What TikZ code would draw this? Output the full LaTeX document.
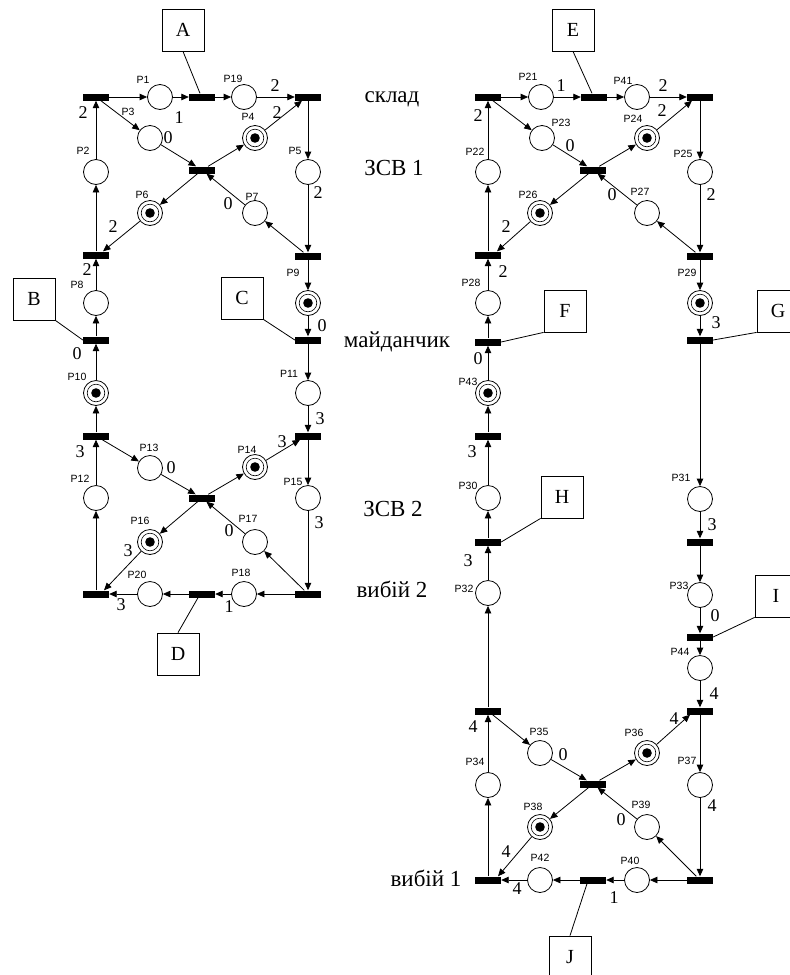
\documentclass[tikz,border=0pt]{standalone}
\usepackage{fontspec}
\setmainfont{Liberation Serif}
\newfontfamily\plfont{Liberation Sans}
\usetikzlibrary{arrows.meta}

\begin{document}
\begin{tikzpicture}[x=1pt,y=-1pt,
  place/.style={circle,draw,line width=0.8pt,minimum size=25pt,inner sep=0pt},
  token/.style={place,path picture={
      \fill (path picture bounding box.center) circle (4.8pt);
      \draw[line width=0.6pt] (path picture bounding box.center) circle (8.8pt);}},
  trans/.style={rectangle,fill=black,minimum width=26pt,minimum height=7pt,inner sep=0pt},
  arc/.style={-{Triangle[length=7.5pt,width=6.5pt]},line width=0.8pt},
  plab/.style={font=\plfont\fontsize{10.5}{10.5}\selectfont,inner sep=0pt},
  wt/.style={font=\fontsize{18}{18}\selectfont,inner sep=0pt},
  tag/.style={draw,line width=0.8pt,minimum width=42pt,minimum height=42pt,inner sep=0pt,font=\fontsize{20}{20}\selectfont},
  zone/.style={font=\fontsize{23}{23}\selectfont,inner sep=0pt,anchor=base},
  link/.style={line width=0.8pt}
]
\useasboundingbox (0,0) rectangle (790,975);
\fill[white] (0,0) rectangle (790,975);
\clip (0,0) rectangle (790,975);

% ---------------- left net ----------------
\node[trans] (tTL) at (96,97) {};
\node[place] (P1) at (160,97) {};
\node[trans] (tA) at (202,97) {};
\node[place] (P19) at (244,97) {};
\node[trans] (tTR) at (308,97) {};
\node[place] (P3) at (150,138) {};
\node[token] (P4) at (255,138) {};
\node[trans] (tC1) at (202,170) {};
\node[place] (P2) at (96,172) {};
\node[place] (P5) at (308,172) {};
\node[token] (P6) at (150,213) {};
\node[place] (P7) at (255,213) {};
\node[trans] (tL2) at (96,255) {};
\node[trans] (tR2) at (308,256) {};
\node[place] (P8) at (96,303) {};
\node[token] (P9) at (308,303) {};
\node[trans] (tB) at (96,340) {};
\node[trans] (tC) at (308,340) {};
\node[token] (P10) at (96,393) {};
\node[place] (P11) at (308,393) {};
\node[trans] (tL3) at (96,436) {};
\node[trans] (tR3) at (308,436) {};
\node[place] (P13) at (150,468) {};
\node[token] (P14) at (255,467) {};
\node[trans] (tC2) at (202,498) {};
\node[place] (P12) at (96,498) {};
\node[place] (P15) at (308,498) {};
\node[token] (P16) at (150,542) {};
\node[place] (P17) at (255,542) {};
\node[trans] (tBL) at (96,594) {};
\node[place] (P20) at (150,594) {};
\node[trans] (tD) at (202,594) {};
\node[place] (P18) at (244,594) {};
\node[trans] (tBR) at (308,594) {};

\draw[arc] (tTL) -- (P1);
\draw[arc] (P1) -- (tA);
\draw[arc] (tA) -- (P19);
\draw[arc] (P19) -- (tTR);
\draw[arc] (tTL) -- (P3);
\draw[arc] (P3) -- (tC1);
\draw[arc] (tC1) -- (P4);
\draw[arc] (P4) -- ([xshift=-6pt]tTR.south);
\draw[arc] (tTR) -- (P5);
\draw[arc] (P5) -- (tR2);
\draw[arc] (tR2) -- (P7);
\draw[arc] (P7) -- (tC1);
\draw[arc] (tC1) -- (P6);
\draw[arc] (P6) -- ([xshift=7pt]tL2.north);
\draw[arc] (tL2) -- (P2);
\draw[arc] (P2) -- (tTL);
\draw[arc] (tR2) -- (P9);
\draw[arc] (P9) -- (tC);
\draw[arc] (tC) -- (P11);
\draw[arc] (P11) -- (tR3);
\draw[arc] (tR3) -- (P15);
\draw[arc] (P15) -- (tBR);
\draw[arc] (tBR) -- (P17);
\draw[arc] (P17) -- (tC2);
\draw[arc] (tBR) -- (P18);
\draw[arc] (P18) -- (tD);
\draw[arc] (tD) -- (P20);
\draw[arc] (P20) -- (tBL);
\draw[arc] (tC2) -- (P16);
\draw[arc] (P16) -- ([xshift=8pt]tBL.north);
\draw[arc] (tBL) -- (P12);
\draw[arc] (P12) -- (tL3);
\draw[arc] (tL3) -- (P10);
\draw[arc] (P10) -- (tB);
\draw[arc] (tB) -- (P8);
\draw[arc] (P8) -- (tL2);
\draw[arc] (tL3) -- (P13);
\draw[arc] (P13) -- (tC2);
\draw[arc] (tC2) -- (P14);
\draw[arc] (P14) -- ([xshift=-8pt]tR3.south);

% ---------------- right net ----------------
\node[trans] (uTL) at (488,97) {};
\node[place] (P21) at (541,97) {};
\node[trans] (tE) at (594,97) {};
\node[place] (P41) at (637,97) {};
\node[trans] (uTR) at (700,97) {};
\node[place] (P23) at (542,138) {};
\node[token] (P24) at (647,138) {};
\node[trans] (uC1) at (593,170) {};
\node[place] (P22) at (488,172) {};
\node[place] (P25) at (700,172) {};
\node[token] (P26) at (540,213) {};
\node[place] (P27) at (647,213) {};
\node[trans] (uL2) at (488,255) {};
\node[trans] (uR2) at (700,256) {};
\node[place] (P28) at (488,303) {};
\node[token] (P29) at (700,303) {};
\node[trans] (tF) at (488,342) {};
\node[trans] (tG) at (700,340) {};
\node[token] (P43) at (488,393) {};
\node[trans] (uL3) at (488,436) {};
\node[place] (P30) at (488,498) {};
\node[trans] (tH) at (488,542) {};
\node[place] (P32) at (488,593) {};
\node[place] (P31) at (700,499) {};
\node[trans] (uR3) at (700,542) {};
\node[place] (P33) at (700,595) {};
\node[trans] (tI) at (700,637) {};
\node[place] (P44) at (700,668) {};
\node[trans] (uL4) at (488,711) {};
\node[trans] (uR4) at (700,711) {};
\node[place] (P35) at (540,753) {};
\node[token] (P36) at (647,753) {};
\node[trans] (uC2) at (593,784) {};
\node[place] (P34) at (488,785) {};
\node[place] (P37) at (700,785) {};
\node[token] (P38) at (540,827) {};
\node[place] (P39) at (647,827) {};
\node[trans] (uBL) at (488,880) {};
\node[place] (P42) at (540,880) {};
\node[trans] (tJ) at (593,880) {};
\node[place] (P40) at (637,880) {};
\node[trans] (uBR) at (700,880) {};

\draw[arc] (uTL) -- (P21);
\draw[arc] (P21) -- (tE);
\draw[arc] (tE) -- (P41);
\draw[arc] (P41) -- (uTR);
\draw[arc] (uTL) -- (P23);
\draw[arc] (P23) -- (uC1);
\draw[arc] (uC1) -- (P24);
\draw[arc] (P24) -- ([xshift=-8pt]uTR.south);
\draw[arc] (uTR) -- (P25);
\draw[arc] (P25) -- (uR2);
\draw[arc] (uR2) -- (P27);
\draw[arc] (P27) -- (uC1);
\draw[arc] (uC1) -- (P26);
\draw[arc] (P26) -- ([xshift=9pt]uL2.north);
\draw[arc] (uL2) -- (P22);
\draw[arc] (P22) -- (uTL);
\draw[arc] (uR2) -- (P29);
\draw[arc] (P29) -- (tG);
\draw[arc] (tG) -- (P31);
\draw[arc] (P31) -- (uR3);
\draw[arc] (uR3) -- (P33);
\draw[arc] (P33) -- (tI);
\draw[arc] (tI) -- (P44);
\draw[arc] (P44) -- (uR4);
\draw[arc] (uR4) -- (P37);
\draw[arc] (P37) -- (uBR);
\draw[arc] (uBR) -- (P39);
\draw[arc] (P39) -- (uC2);
\draw[arc] (uBR) -- (P40);
\draw[arc] (P40) -- (tJ);
\draw[arc] (tJ) -- (P42);
\draw[arc] (P42) -- (uBL);
\draw[arc] (uC2) -- (P38);
\draw[arc] (P38) -- ([xshift=10pt]uBL.north);
\draw[arc] (uBL) -- (P34);
\draw[arc] (P34) -- (uL4);
\draw[arc] (uL4) -- (P35);
\draw[arc] (P35) -- (uC2);
\draw[arc] (uC2) -- (P36);
\draw[arc] (P36) -- ([xshift=-10pt]uR4.south);
\draw[arc] (uL4) -- (P32);
\draw[arc] (P32) -- (tH);
\draw[arc] (tH) -- (P30);
\draw[arc] (P30) -- (uL3);
\draw[arc] (uL3) -- (P43);
\draw[arc] (P43) -- (tF);
\draw[arc] (tF) -- (P28);
\draw[arc] (P28) -- (uL2);

% ---------------- lettered tags ----------------
\node[tag] (A) at (183,30) {A};
\node[tag] (B) at (34,299) {B};
\node[tag] (C) at (242,298) {C};
\node[tag] (D) at (178,654) {D};
\node[tag] (E) at (573,30) {E};
\node[tag] (F) at (565,311) {F};
\node[tag] (G) at (778,311) {G};
\node[tag] (H) at (562,497) {H};
\node[tag] (I) at (776,596) {I};
\node[tag] (J) at (570,957) {J};
\draw[link] (A.south) -- ([xshift=-2pt]tA.north);
\draw[link] (B.south east) -- (tB.west);
\draw[link] (C.south east) -- (tC.west);
\draw[link] (D.north) -- ([xshift=-4pt]tD.south);
\draw[link] (E.south) -- ([xshift=-2pt]tE.north);
\draw[link] (F.south west) -- (tF.east);
\draw[link] (G.south west) -- (tG.east);
\draw[link] (H.south west) -- (tH.east);
\draw[link] (I.south west) -- (tI.east);
\draw[link] (J.north) -- ([xshift=-6pt]tJ.south);

% ---------------- zone captions ----------------
\node[zone] (zs) at (392,102) {склад};
\node[zone] (z1) at (394,175) {ЗСВ 1};
\node[zone] (zm) at (397,347) {майданчик};
\node[zone] (z2) at (393,516) {ЗСВ 2};
\node[zone] (zv2) at (392,597) {вибій 2};
\node[zone] (zv1) at (426,886) {вибій 1};

% ---------------- place names ----------------
\node[plab] (lP1) at (143,80) {P1};
\node[plab] (lP19) at (233,79) {P19};
\node[plab] (lP3) at (128,112) {P3};
\node[plab] (lP4) at (248,117) {P4};
\node[plab] (lP2) at (83,151) {P2};
\node[plab] (lP5) at (295,151) {P5};
\node[plab] (lP6) at (142,195) {P6};
\node[plab] (lP7) at (252,197) {P7};
\node[plab] (lP9) at (293,273) {P9};
\node[plab] (lP8) at (77,285) {P8};
\node[plab] (lP10) at (77,377) {P10};
\node[plab] (lP11) at (289,374) {P11};
\node[plab] (lP12) at (80,479) {P12};
\node[plab] (lP13) at (149,448) {P13};
\node[plab] (lP14) at (247,450) {P14};
\node[plab] (lP15) at (293,482) {P15};
\node[plab] (lP16) at (140,521) {P16};
\node[plab] (lP17) at (248,519) {P17};
\node[plab] (lP18) at (241,573) {P18};
\node[plab] (lP20) at (137,575) {P20};
\node[plab] (lP21) at (528,77) {P21};
\node[plab] (lP41) at (623,81) {P41};
\node[plab] (lP23) at (561,123) {P23};
\node[plab] (lP24) at (633,119) {P24};
\node[plab] (lP22) at (475,152) {P22};
\node[plab] (lP25) at (683,154) {P25};
\node[plab] (lP26) at (528,195) {P26};
\node[plab] (lP27) at (640,192) {P27};
\node[plab] (lP28) at (471,283) {P28};
\node[plab] (lP29) at (687,273) {P29};
\node[plab] (lP43) at (468,382) {P43};
\node[plab] (lP30) at (468,486) {P30};
\node[plab] (lP32) at (464,589) {P32};
\node[plab] (lP31) at (681,478) {P31};
\node[plab] (lP33) at (679,586) {P33};
\node[plab] (lP44) at (680,652) {P44};
\node[plab] (lP35) at (539,732) {P35};
\node[plab] (lP36) at (634,733) {P36};
\node[plab] (lP34) at (475,762) {P34};
\node[plab] (lP37) at (687,761) {P37};
\node[plab] (lP38) at (533,807) {P38};
\node[plab] (lP39) at (641,805) {P39};
\node[plab] (lP42) at (540,858) {P42};
\node[plab] (lP40) at (630,861) {P40};

% ---------------- arc weights ----------------
\node[wt] (w1) at (275,86) {2};
\node[wt] (w2) at (179,118) {1};
\node[wt] (w3) at (277,113) {2};
\node[wt] (w4) at (168,138) {0};
\node[wt] (w5) at (83,113) {2};
\node[wt] (w6) at (318,193) {2};
\node[wt] (w7) at (228,204) {0};
\node[wt] (w8) at (113,227) {2};
\node[wt] (w9) at (87,270) {2};
\node[wt] (w10) at (77,354) {0};
\node[wt] (w11) at (322,326) {0};
\node[wt] (w12) at (320,419) {3};
\node[wt] (w13) at (80,452) {3};
\node[wt] (w14) at (171,468) {0};
\node[wt] (w15) at (282,442) {3};
\node[wt] (w16) at (319,523) {3};
\node[wt] (w17) at (229,531) {0};
\node[wt] (w18) at (128,551) {3};
\node[wt] (w19) at (121,605) {3};
\node[wt] (w20) at (229,607) {1};
\node[wt] (w21) at (561,86) {1};
\node[wt] (w22) at (663,86) {2};
\node[wt] (w23) at (662,111) {2};
\node[wt] (w24) at (570,146) {0};
\node[wt] (w25) at (478,116) {2};
\node[wt] (w26) at (711,195) {2};
\node[wt] (w27) at (612,195) {0};
\node[wt] (w28) at (506,227) {2};
\node[wt] (w29) at (503,272) {2};
\node[wt] (w30) at (478,359) {0};
\node[wt] (w31) at (472,452) {3};
\node[wt] (w32) at (468,561) {3};
\node[wt] (w33) at (716,323) {3};
\node[wt] (w34) at (712,525) {3};
\node[wt] (w35) at (715,616) {0};
\node[wt] (w36) at (714,694) {4};
\node[wt] (w37) at (473,727) {4};
\node[wt] (w38) at (674,719) {4};
\node[wt] (w39) at (563,755) {0};
\node[wt] (w40) at (712,806) {4};
\node[wt] (w41) at (621,820) {0};
\node[wt] (w42) at (506,852) {4};
\node[wt] (w43) at (517,889) {4};
\node[wt] (w44) at (614,898) {1};
\end{tikzpicture}
\end{document}
